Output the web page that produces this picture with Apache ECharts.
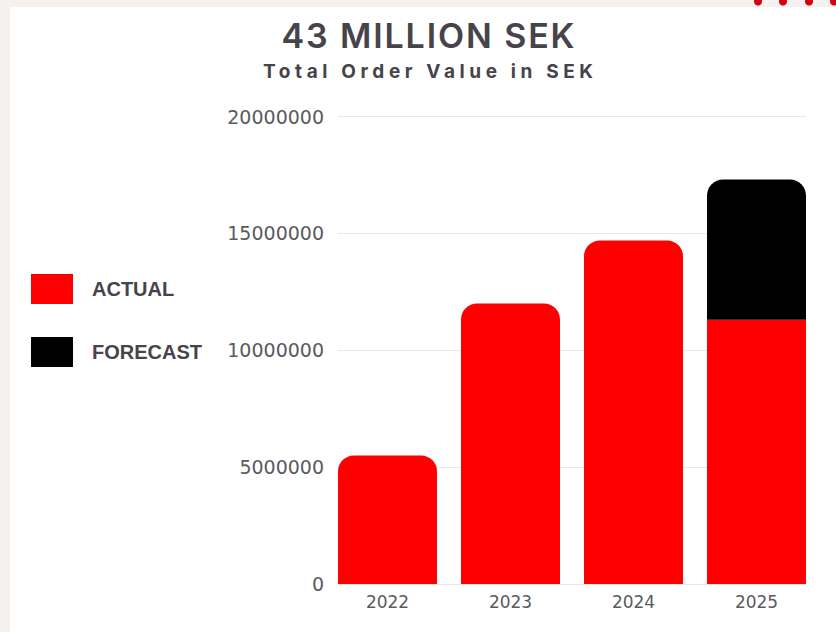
<!DOCTYPE html>
<html><head><meta charset="utf-8">
<script src="https://cdn.jsdelivr.net/npm/echarts@6/dist/echarts.min.js"></script>
<style>
html,body{margin:0;padding:0;background:#f4f1ee;overflow:hidden;}
#panel{position:absolute;left:10px;top:7px;width:826px;height:625px;background:#ffffff;}
#c{position:absolute;left:0;top:0;width:836px;height:632px;}
</style></head><body>
<div id="panel"></div><div id="c"></div>
<script>
// ---- data ----
const titleText = '43 MILLION SEK';
const subtitleText = 'Total Order Value in SEK';
const years = ['2022', '2023', '2024', '2025'];
const actual = [5500000, 12000000, 14700000, 11300000];
const forecast = [null, null, null, 6000000];
const seriesNames = ['ACTUAL', 'FORECAST'];
const yMin = 0, yMax = 20000000, yStep = 5000000;

// ---- styles ----
const RED = '#ff0000', BLACK = '#000000', TEXT = '#46434a', AXIS = '#5a5a60';
const titleFont = '600 34px Inter';
const subFont = 'bold 19px Inter';
const TITLE_TARGET_W = 293, SUB_TARGET_W = 330, CX = 428;

const chart = echarts.init(document.getElementById('c'), null, {renderer: 'svg', width: 836, height: 632});

const radiusTop = [16, 16, 0, 0];
const actualData = actual.map((v, i) => ({value: v, itemStyle: {borderRadius: forecast[i] ? 0 : radiusTop}}));
const forecastData = forecast.map(v => (v == null ? null : {value: v, itemStyle: {borderRadius: radiusTop}}));

const dots = [758, 783, 809, 834].map(x => ({
  type: 'circle', shape: {cx: x, cy: 1.5, r: 4}, style: {fill: '#d6000c'}, silent: true
}));

chart.setOption({
  animation: false,
  backgroundColor: 'transparent',
  grid: [
    {left: 338, right: 30, top: 116.5, bottom: 48},
    {left: 326, width: 492, top: 116.5, bottom: 48}
  ],
  xAxis: [
    {gridIndex: 0, type: 'category', data: years, show: false},
    {gridIndex: 1, type: 'category', data: years,
     axisLine: {show: false}, axisTick: {show: false},
     axisLabel: {fontFamily: 'DejaVu Sans', fontSize: 17, color: AXIS, margin: 9}}
  ],
  yAxis: [
    {gridIndex: 0, type: 'value', min: yMin, max: yMax, interval: yStep,
     axisLine: {show: false}, axisTick: {show: false},
     axisLabel: {fontFamily: 'DejaVu Sans', fontSize: 19, color: AXIS, margin: 14, formatter: v => String(v)},
     splitLine: {lineStyle: {color: '#e8e8e8', width: 1}}},
    {gridIndex: 1, type: 'value', min: yMin, max: yMax, interval: yStep, show: false, splitLine: {show: false}}
  ],
  legend: {
    data: seriesNames, orient: 'vertical', left: 31, top: 274, padding: 0,
    itemWidth: 42, itemHeight: 30, itemGap: 33, icon: 'rect',
    itemStyle: {borderWidth: 0},
    textStyle: {fontFamily: 'Liberation Sans', fontWeight: 'bold', fontSize: 20, color: TEXT, padding: [0, 0, 0, 14]}
  },
  series: [
    {name: seriesNames[0], type: 'bar', stack: 'total', xAxisIndex: 1, yAxisIndex: 1,
     barWidth: 99, itemStyle: {color: RED}, data: actualData},
    {name: seriesNames[1], type: 'bar', stack: 'total', xAxisIndex: 1, yAxisIndex: 1,
     barWidth: 99, itemStyle: {color: BLACK}, data: forecastData}
  ],
  graphic: [
    {type: 'text', x: CX, y: 35, silent: true,
     style: {text: titleText, fill: TEXT, font: titleFont, textAlign: 'center', textVerticalAlign: 'middle', align: 'center', verticalAlign: 'middle'}},
    {type: 'text', x: CX, y: 71.5, silent: true,
     style: {text: subtitleText, fill: TEXT, font: subFont, textAlign: 'center', textVerticalAlign: 'middle', align: 'center', verticalAlign: 'middle'}}
  ].concat(dots)
});

// letter spacing for the heading texts (SVG renderer)
const mctx = document.createElement('canvas').getContext('2d');
function spacingFor(text, font, target) {
  mctx.font = font;
  const w = mctx.measureText(text).width;
  return Math.max(0, (target - w) / (text.length - 1));
}
function applySpacing() {
  const specs = [[titleText, titleFont, TITLE_TARGET_W], [subtitleText, subFont, SUB_TARGET_W]];
  document.querySelectorAll('#c svg text').forEach(t => {
    specs.forEach(([txt, f, tw]) => {
      if (t.textContent === txt) {
        const s = spacingFor(txt, f, tw);
        t.style.letterSpacing = s + 'px';
        t.setAttribute('dx', (s / 2).toFixed(2));
      }
    });
  });
}
applySpacing();
chart.on('finished', applySpacing);
setTimeout(applySpacing, 50);
</script>
</body></html>
